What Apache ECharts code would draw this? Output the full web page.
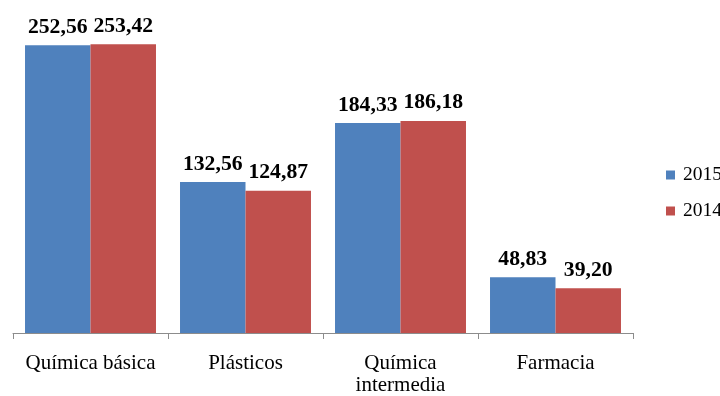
<!DOCTYPE html>
<html>
<head>
<meta charset="utf-8">
<script src="https://cdn.jsdelivr.net/npm/echarts@6/dist/echarts.min.js"></script>
<style>
  html, body { margin: 0; padding: 0; background: #fff; }
  #chart { width: 720px; height: 396px; }
</style>
</head>
<body>
<div id="chart"></div>
<script>
// Sector categories and yearly values
const categories = ['Química básica', 'Plásticos', 'Química\nintermedia', 'Farmacia'];
const values2015 = [252.56, 132.56, 184.33, 48.83];
const values2014 = [253.42, 124.87, 186.18, 39.20];
const seriesNames = ['2015', '2014'];

const fmt = v => v.toFixed(2).replace('.', ',');
const serif = "'Times New Roman', 'Liberation Serif', serif";

const labelStyle = {
  show: true,
  position: 'top',
  distance: 7,
  fontFamily: serif,
  fontWeight: 'bold',
  fontSize: 21.7,
  color: '#000',
  formatter: p => fmt(p.value)
};

const chart = echarts.init(document.getElementById('chart'), null, { renderer: 'canvas' });
chart.setOption({
  animation: false,
  backgroundColor: '#fff',
  grid: { left: 13, right: 87, top: 14, bottom: 59, containLabel: false },
  legend: {
    orient: 'vertical',
    left: 661,
    top: 160,
    itemWidth: 9,
    itemHeight: 9,
    itemGap: 16,
    icon: 'rect',
    textStyle: { fontFamily: serif, fontSize: 19.5, color: '#000', padding: [0, 0, 0, 3] },
    data: seriesNames
  },
  xAxis: {
    type: 'category',
    data: categories,
    axisLine: { lineStyle: { color: '#8c8c8c', width: 1 } },
    axisTick: { show: true, length: 6, lineStyle: { color: '#8c8c8c' } },
    axisLabel: {
      fontFamily: serif,
      fontSize: 21,
      color: '#000',
      margin: 19,
      lineHeight: 22,
      interval: 0
    }
  },
  yAxis: {
    type: 'value',
    min: 0,
    max: 280,
    show: false,
    splitLine: { show: false }
  },
  series: [
    {
      name: seriesNames[0],
      type: 'bar',
      data: values2015,
      barGap: '0%',
      barCategoryGap: '15.5%',
      itemStyle: { color: '#4F81BD' },
      label: labelStyle
    },
    {
      name: seriesNames[1],
      type: 'bar',
      data: values2014,
      itemStyle: { color: '#C0504D' },
      label: labelStyle
    }
  ]
});
</script>
</body>
</html>
